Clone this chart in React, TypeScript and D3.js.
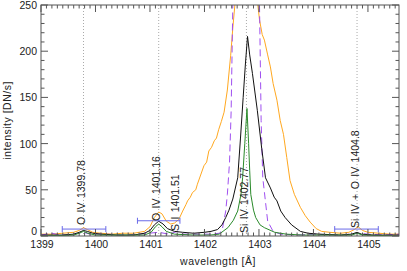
import * as d3 from 'd3';
import React from 'react';

// spectra: [wavelength (A), intensity (DN/s)]
const orangeProfile: [number, number][] = [
  [1399.0, 2], [1399.2, 2], [1399.4, 3], [1399.6, 4], [1399.7, 6], [1399.78, 9], [1399.85, 7],
  [1399.95, 4], [1400.1, 3], [1400.3, 2], [1400.5, 3], [1400.7, 3], [1400.9, 5], [1401.0, 10],
  [1401.08, 20], [1401.16, 26], [1401.22, 24], [1401.3, 16], [1401.38, 13], [1401.45, 14],
  [1401.53, 18], [1401.6, 27], [1401.66, 34], [1401.69, 38], [1401.74, 42], [1401.78, 47],
  [1401.84, 50], [1401.87, 56], [1401.93, 66], [1401.99, 76], [1402.04, 80], [1402.08, 92],
  [1402.13, 96], [1402.18, 103], [1402.22, 106], [1402.26, 115], [1402.31, 124], [1402.36, 134],
  [1402.42, 158], [1402.48, 195], [1402.52, 225], [1402.57, 258], [1402.65, 320], [1402.77, 380],
  [1402.9, 320], [1402.97, 255], [1403.01, 234], [1403.06, 218], [1403.1, 212], [1403.16, 196],
  [1403.21, 183], [1403.26, 165], [1403.33, 147], [1403.39, 125], [1403.45, 110], [1403.51, 85],
  [1403.57, 60], [1403.65, 45], [1403.76, 31], [1403.85, 22], [1403.94, 15], [1404.05, 8],
  [1404.15, 5], [1404.3, 4], [1404.5, 3], [1404.65, 4], [1404.75, 7], [1404.82, 10], [1404.9, 6],
  [1405.0, 4], [1405.2, 3], [1405.4, 2], [1405.57, 2],
];

const blackProfile: [number, number][] = [
  [1399.0, 1], [1399.4, 1], [1399.6, 2], [1399.7, 4], [1399.78, 6], [1399.85, 5], [1399.95, 3],
  [1400.1, 2], [1400.4, 1], [1400.7, 1], [1400.9, 3], [1401.0, 6], [1401.08, 12], [1401.16, 16],
  [1401.24, 13], [1401.32, 8], [1401.45, 5], [1401.6, 4], [1401.8, 3], [1402.0, 4], [1402.12, 5],
  [1402.24, 7], [1402.32, 12], [1402.39, 20], [1402.45, 28], [1402.52, 40], [1402.61, 63],
  [1402.66, 105], [1402.71, 150], [1402.75, 185], [1402.79, 216], [1402.83, 196], [1402.88, 176],
  [1402.97, 136], [1403.05, 95], [1403.12, 63], [1403.21, 52], [1403.28, 42], [1403.33, 38],
  [1403.4, 27], [1403.48, 20], [1403.6, 12], [1403.76, 5], [1403.9, 3], [1404.1, 2], [1404.5, 1],
  [1404.7, 2], [1404.8, 4], [1404.88, 2], [1405.1, 1], [1405.57, 1],
];

const greenProfile: [number, number][] = [
  [1399.0, 0], [1399.6, 1], [1399.7, 3], [1399.78, 5], [1399.86, 3], [1400.0, 1], [1400.9, 1],
  [1401.02, 4], [1401.1, 10], [1401.16, 13], [1401.22, 10], [1401.3, 5], [1401.45, 2], [1401.8, 1],
  [1402.1, 1], [1402.27, 2], [1402.43, 9], [1402.53, 17], [1402.61, 27], [1402.67, 45],
  [1402.7, 63], [1402.74, 100], [1402.78, 138], [1402.81, 100], [1402.83, 71], [1402.85, 45],
  [1402.9, 28], [1402.94, 20], [1403.02, 12], [1403.1, 9], [1403.29, 4], [1403.5, 2], [1403.8, 1],
  [1404.7, 1], [1404.8, 3], [1404.9, 1], [1405.57, 0],
];

const purpleProfile: [number, number][] = [
  [1399.0, 1], [1399.2, 3], [1399.35, 1], [1399.6, 2], [1399.78, 4], [1399.9, 2], [1400.2, 2],
  [1400.5, 1], [1400.8, 2], [1401.16, 4], [1401.35, 2], [1401.5, 5], [1401.6, 2], [1401.9, 2],
  [1402.1, 2], [1402.28, 3], [1402.33, 8], [1402.39, 27], [1402.42, 45], [1402.46, 80],
  [1402.49, 136], [1402.52, 250], [1402.6, 500], [1402.77, 700], [1402.95, 500], [1403.01, 250],
  [1403.04, 125], [1403.07, 63], [1403.16, 16], [1403.26, 5], [1403.4, 2], [1403.7, 1],
  [1404.0, 2], [1404.5, 1], [1404.8, 3], [1405.0, 2], [1405.3, 1], [1405.57, 2],
];

// line identifications
const lineIds = ['O IV 1399.78', 'O IV 1401.16', 'S I 1401.51', 'Si IV 1402.77', 'Si IV + O IV 1404.8'];
const lineWaves = [1399.78, 1401.16, 1401.51, 1402.77, 1404.8];
const lineLabelBase = [225, 221, 231, 233, 228]; // where the label starts (px)
const dottedWaves = [1399.78, 1401.16, 1402.77, 1404.8];

// horizontal bars: centre, half width, height
const barCentres = [1399.79, 1401.16, 1404.79];
const barHalfWidths = [0.4, 0.39, 0.4];
const barLevels = [7.5, 16.5, 7.5];

const xTicks = [1399, 1400, 1401, 1402, 1403, 1404, 1405];
const yTicks = [0, 50, 100, 150, 200, 250];

export default function App() {
  const W = 407, H = 271;
  const left = 41, right = 399, top = 5, bottom = 236;

  const x = d3.scaleLinear().domain([1399, 1405.57]).range([left, right]);
  const y = d3.scaleLinear().domain([0, 250]).range([bottom, top]);

  const line = d3.line<[number, number]>()
    .x((d) => x(d[0]))
    .y((d) => y(d[1]));

  const minorX = d3.range(13990, 14056).map((v) => v / 10).filter((v) => Math.abs(v - Math.round(v)) > 1e-6);
  const minorY = d3.range(0, 251, 10).filter((v) => v % 50 !== 0);

  const font = '"Liberation Sans", Arial, sans-serif';
  const frame = '#555';

  return (
    <svg width={W} height={H} style={{ position: 'absolute', left: 0, top: 0, background: '#fff' }}
      fontFamily={font}>
      <defs>
        <clipPath id="plotArea">
          <rect x={left} y={top} width={right - left} height={bottom - top} />
        </clipPath>
      </defs>

      {/* dotted line markers */}
      {dottedWaves.map((w, i) => (
        <line key={'d' + i} x1={x(w)} x2={x(w)} y1={top} y2={bottom}
          stroke="#aaa" strokeWidth={1} strokeDasharray="1,2" />
      ))}

      <g clipPath="url(#plotArea)" fill="none" strokeWidth={1}>
        <path d={line(orangeProfile) || ''} stroke="#ffa820" />
        <path d={line(purpleProfile) || ''} stroke="#a050f0" strokeDasharray="7,4" />
        <path d={line(blackProfile) || ''} stroke="#111" />
        <path d={line(greenProfile) || ''} stroke="#2a8a2a" />
      </g>

      {/* bars */}
      {barCentres.map((c, i) => {
        const x0 = x(c - barHalfWidths[i]), x1 = x(c + barHalfWidths[i]), yy = y(barLevels[i]);
        return (
          <g key={'b' + i} stroke="#6a6ae8" strokeWidth={1}>
            <line x1={x0} x2={x1} y1={yy} y2={yy} />
            <line x1={x0} x2={x0} y1={yy - 3} y2={yy + 3} />
            <line x1={x1} x2={x1} y1={yy - 3} y2={yy + 3} />
          </g>
        );
      })}

      {/* line labels */}
      {lineIds.map((t, i) => (
        <text key={'l' + i} transform={`translate(${x(lineWaves[i]) + 1.5},${lineLabelBase[i]}) rotate(-90)`}
          fontSize={10.5} fill="#222" wordSpacing={1.5}>{t}</text>
      ))}

      {/* frame */}
      <rect x={left} y={top} width={right - left} height={bottom - top} fill="none" stroke={frame} strokeWidth={1} />

      {/* x ticks, bottom and top */}
      <g stroke={frame} strokeWidth={1}>
        {xTicks.map((t) => (
          <g key={'xt' + t}>
            <line x1={x(t)} x2={x(t)} y1={bottom} y2={bottom - 7} />
            <line x1={x(t)} x2={x(t)} y1={top} y2={top + 7} />
          </g>
        ))}
        {minorX.map((t) => (
          <g key={'xm' + t}>
            <line x1={x(t)} x2={x(t)} y1={bottom} y2={bottom - 3.5} />
            <line x1={x(t)} x2={x(t)} y1={top} y2={top + 3.5} />
          </g>
        ))}
        {yTicks.map((t) => (
          <g key={'yt' + t}>
            <line x1={left} x2={left + 7} y1={y(t)} y2={y(t)} />
            <line x1={right} x2={right - 7} y1={y(t)} y2={y(t)} />
          </g>
        ))}
        {minorY.map((t) => (
          <g key={'ym' + t}>
            <line x1={left} x2={left + 3.5} y1={y(t)} y2={y(t)} />
            <line x1={right} x2={right - 3.5} y1={y(t)} y2={y(t)} />
          </g>
        ))}
      </g>

      {/* tick labels */}
      {xTicks.map((t) => (
        <text key={'xl' + t} x={x(t) + 1} y={bottom + 11.5} textAnchor="middle" fontSize={10.5} fill="#222">{t}</text>
      ))}
      {yTicks.map((t) => (
        <text key={'yl' + t} x={left - 4} y={y(t) + (t === 0 ? -1 : 4)} textAnchor="end" fontSize={10.5} fill="#222">{t}</text>
      ))}

      {/* axis titles */}
      <text x={(left + right) / 2 - 2} y={H - 6} textAnchor="middle" fontSize={10.5} fill="#222" letterSpacing={0.5}>
        wavelength [Å]
      </text>
      <text transform={`translate(11,${(top + bottom) / 2}) rotate(-90)`} textAnchor="middle" fontSize={10.5}
        fill="#222" letterSpacing={0.5}>
        intensity [DN/s]
      </text>
    </svg>
  );
}
